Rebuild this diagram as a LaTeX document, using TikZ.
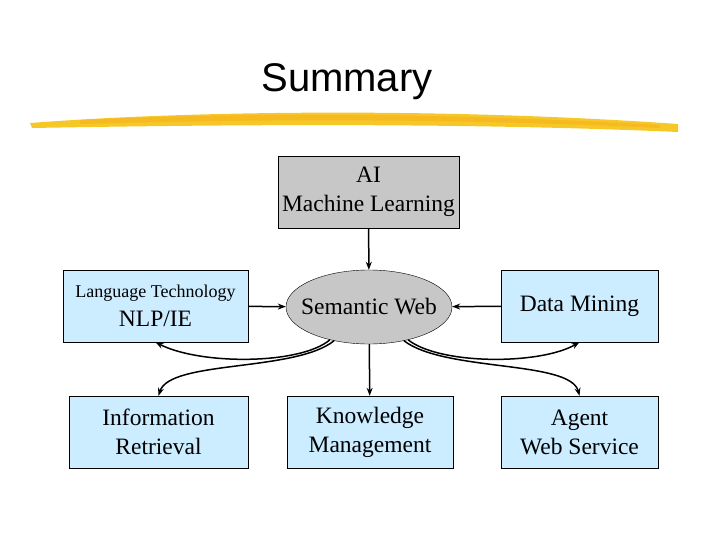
\documentclass[tikz,border=0pt]{standalone}
\usepackage{fontspec}
\setmainfont{Liberation Serif}
\newfontfamily\titlefont{Liberation Sans}
\usetikzlibrary{shapes.geometric,arrows.meta}
\definecolor{boxblue}{RGB}{204,236,255}
\definecolor{brush}{RGB}{245,200,40}
\begin{document}
\begin{tikzpicture}[x=1pt,y=-1pt,
  bx/.style={draw=black,fill=boxblue,minimum height=72pt,align=center,inner sep=1pt,font=\fontsize{23.5}{29}\selectfont},
  arr/.style={-{Stealth[length=8pt,width=6pt]},line width=1.5pt}]
\useasboundingbox (0,0) rectangle (720,540);
\node[font=\titlefont\fontsize{40}{42}\selectfont] (t) at (347,82) {Summary};
\fill[brush] (30,123) .. controls (200,110) and (450,108) .. (678,124) -- (678,132) .. controls (450,122) and (200,125) .. (32,128) -- cycle;
\fill[brush!80!orange] (80,120) .. controls (250,112) and (450,113) .. (660,125) -- (660,128) .. controls (450,118) and (250,119) .. (80,124) -- cycle;
\node[bx,fill=black!22,minimum width=181pt] (ai) at (368.5,192) {AI\\Machine Learning};
\node[bx,minimum width=185pt,font=\fontsize{18}{22}\selectfont] (nlp) at (155.5,306) {Language Technology\\[7pt]{\fontsize{23.5}{29}\selectfont NLP/IE}};
\node[draw=black,fill=black!22,ellipse,minimum width=166pt,minimum height=74pt,inner sep=0pt,font=\fontsize{23.5}{29}\selectfont] (sw) at (369,307) {\makebox[0pt]{Semantic Web}};
\node[bx,minimum width=157pt] (dm) at (579.5,306) {Data Mining};
\node[bx,minimum width=179pt] (ir) at (158.5,432) {Information\\Retrieval};
\node[bx,minimum width=166pt] (km) at (370,432) {Knowledge\\Management};
\node[bx,minimum width=157pt] (ag) at (579.5,432) {Agent\\Web Service};
\draw[arr] (ai) -- (sw);
\draw[arr] (nlp) -- (sw);
\draw[arr] (dm) -- (sw);
\draw[arr] (sw) -- (km);
\draw[arr] (sw.220) .. controls (300,365) and (200,365) .. (nlp.south);
\draw[arr] (sw.224) .. controls (295,372) and (170,360) .. (ir.north);
\draw[arr] (sw.320) .. controls (440,365) and (540,365) .. (dm.south);
\draw[arr] (sw.316) .. controls (445,372) and (570,360) .. (ag.north);
\end{tikzpicture}
\end{document}
